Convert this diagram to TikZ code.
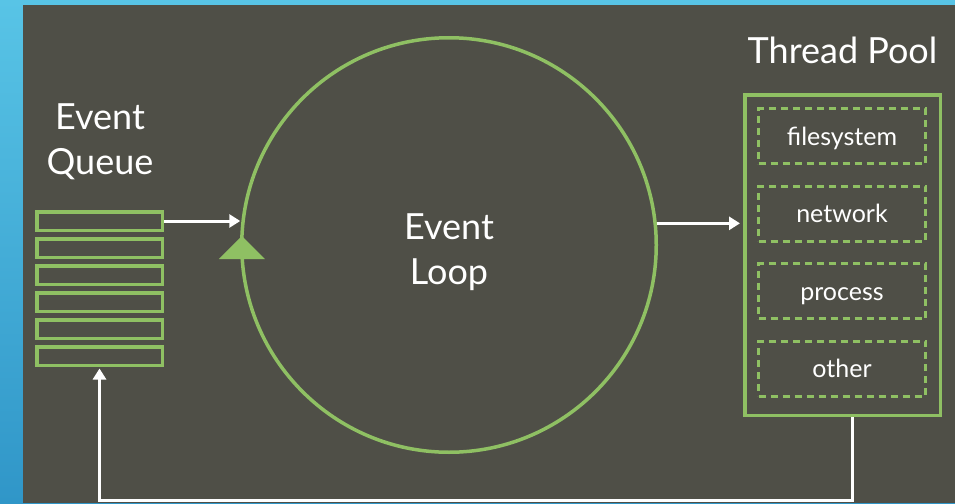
\documentclass[tikz,border=0pt]{standalone}
\usepackage{fontspec}
\setmainfont{Lato}
\usetikzlibrary{arrows.meta}

\definecolor{slateBg}{RGB}{79,79,71}
\definecolor{skyTop}{RGB}{88,196,230}
\definecolor{skyBottom}{RGB}{48,150,200}
\definecolor{loopGreen}{RGB}{143,192,99}

\tikzset{
  queuebox/.style={draw=loopGreen, line width=3.5pt, minimum width=125.5pt, minimum height=18.5pt, inner sep=0pt},
  workerbox/.style={draw=loopGreen, line width=3pt, dash pattern=on 7pt off 5pt, minimum width=167pt, minimum height=55pt, inner sep=0pt, text height=24pt, text depth=6pt, text=white, font=\fontsize{25}{29}\selectfont},
  flow/.style={draw=white, line width=3pt, -{Triangle[width=13pt,length=11pt]}},
  bigtext/.style={text=white, align=center, font=\fontsize{36}{45}\selectfont},
}

\begin{document}
\begin{tikzpicture}[x=1pt, y=-1pt]
        \useasboundingbox (0,0) rectangle (955,503);
        \shade[top color=skyTop, bottom color=skyBottom] (0,0) rectangle (955,503);
        \fill[slateBg] (23,5) rectangle (955,503);

        \node[bigtext] (qtitle) at (100,142) {Event\\Queue};
        \foreach \i in {1,...,6}
            \node[queuebox] (q\i) at (99.5,{221+27*(\i-1)}) {};

        \node[circle, draw=loopGreen, line width=3.5pt, minimum size=414.5pt, inner sep=0pt, outer sep=0pt] (loop) at (449,245) {};
        \node[bigtext] (looptext) at (449,252) {Event\\Loop};
        \fill[loopGreen] (loop.west) ++(0,-9) -- ++(23,23) -- ++(-46,0) -- cycle;

        \node[bigtext] (ptitle) at (842.5,50) {Thread Pool};
        \node[draw=loopGreen, line width=3.5pt, minimum width=195.5pt, minimum height=320.5pt] (pool) at (842.5,255) {};
        \node[workerbox] (w1) at (842,136) {filesystem};
        \node[workerbox] (w2) at (842,213.5) {network};
        \node[workerbox] (w3) at (842,291) {process};
        \node[workerbox] (w4) at (842,368.5) {other};

        \draw[flow, shorten >=1.5pt] (q1.east) -- (q1.east -| loop.west);
        \draw[flow, shorten <=1.5pt, shorten >=3pt] (loop.6) -- (loop.6 -| pool.west);
        \draw[flow, shorten >=1.5pt] ([xshift=9.5pt]pool.south) -- ++(0,83) -| (q6.south);
\end{tikzpicture}
\end{document}
